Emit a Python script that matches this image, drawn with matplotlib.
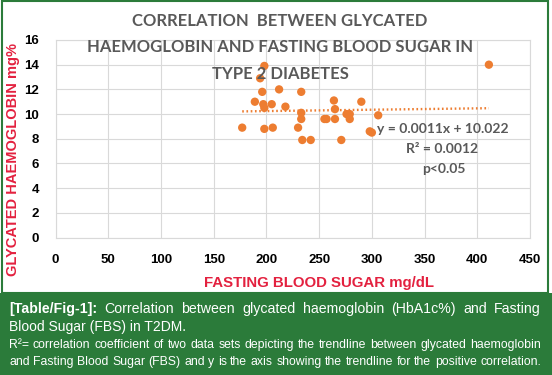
import matplotlib
matplotlib.use("Agg")
import matplotlib.pyplot as plt
from matplotlib.patches import Rectangle
import numpy as np

# ---- data ----
fbs = [177, 198, 194, 196, 212, 233, 189, 197, 198, 205, 218, 233, 233, 198, 206, 230,
       234, 242, 255, 257, 265, 264, 265, 276, 279, 279, 271, 290, 306, 298, 300, 411]
hba1c = [8.9, 13.9, 12.9, 11.8, 12.0, 11.8, 11.0, 10.8, 10.5, 10.8, 10.6, 10.1, 9.6, 8.8, 8.9, 8.9,
         7.9, 7.9, 9.6, 9.6, 9.6, 11.1, 10.4, 10.0, 10.0, 9.6, 7.9, 11.0, 9.9, 8.6, 8.5, 14.0]
slope = 0.0011
intercept = 10.022
x_ticks = [0, 50, 100, 150, 200, 250, 300, 350, 400, 450]
y_ticks = [0, 2, 4, 6, 8, 10, 12, 14, 16]

title_lines = ["CORRELATION  BETWEEN GLYCATED",
               "HAEMOGLOBIN AND FASTING BLOOD SUGAR IN",
               "TYPE 2 DIABETES"]
eq_lines = ["y = 0.0011x + 10.022", "R² = 0.0012", "p<0.05"]
x_label = "FASTING BLOOD SUGAR mg/dL"
y_label = "GLYCATED HAEMOGLOBIN mg%"
cap_bold = "[Table/Fig-1]:"
cap_l1 = "Correlation between glycated haemoglobin (HbA1c%) and Fasting"
cap_l2 = "Blood Sugar (FBS) in T2DM."
cap_l3 = "R²= correlation coefficient of two data sets depicting the trendline between glycated haemoglobin"
cap_l4 = "and Fasting Blood Sugar (FBS) and y is the axis showing the trendline for the positive correlation."

W, H = 552, 375
fig = plt.figure(figsize=(W / 100, H / 100), dpi=100)
renderer = fig.canvas.get_renderer()

ORANGE = "#ED7D31"
GREEN = "#2B7B3A"
RED = "#E3213F"
GRAY = "#595959"
GRID = "#D9D9D9"

def fx(px):
    return px / W

def fy(py):
    return 1 - py / H

# green caption box
fig.patches.append(Rectangle((0, 0), 1, fy(293), transform=fig.transFigure,
                             facecolor=GREEN, edgecolor="none", zorder=0))
# green frame around chart area
fig.patches.append(Rectangle((fx(1.5), fy(293)), fx(548) - fx(1.5), fy(1) - fy(293),
                             transform=fig.transFigure, facecolor="none",
                             edgecolor=GREEN, lw=1.5, zorder=0))

left, right, top, bottom = 55.6, 530, 40, 237.5
ax = fig.add_axes([fx(left), fy(bottom), fx(right) - fx(left), fy(top) - fy(bottom)])
ax.set_xlim(0, 450)
ax.set_ylim(0, 16)
ax.set_xticks(x_ticks)
ax.set_yticks(y_ticks)
ax.grid(True, color=GRID, lw=0.8)
ax.set_axisbelow(True)
for s in ax.spines.values():
    s.set_color(GRID)
    s.set_linewidth(0.8)
ax.tick_params(length=0, pad=12, labelsize=9.5, labelcolor="black")
for lab in ax.get_xticklabels() + ax.get_yticklabels():
    lab.set_family(["Liberation Sans", "DejaVu Sans"])
    lab.set_fontweight("bold")

ax.scatter(fbs, hba1c, s=36, color=ORANGE, edgecolors="none", zorder=3)
xt = np.array([min(fbs), max(fbs)])
ax.plot(xt, slope * xt + intercept, color=ORANGE, lw=1.7, linestyle=(0, (0.7, 1.1)), zorder=2)

# title
tfont = ["Lato", "DejaVu Sans"]
for line, yy in zip(title_lines, [21, 47.5, 74]):
    fig.text(fx(280), fy(yy), line, ha="center", va="center", color=GRAY,
             fontsize=12, fontweight="bold", family=tfont, zorder=5)

# equation annotation
for line, xx, yy in zip(eq_lines, [442.5, 442, 444], [129, 149, 169]):
    fig.text(fx(xx), fy(yy), line, ha="center", va="center", color=GRAY,
             fontsize=10, fontweight="bold", family=tfont, zorder=5)

# axis labels
lfont = ["Liberation Sans", "DejaVu Sans"]
fig.text(fx(319), fy(283), x_label, ha="center", va="center", color=RED,
         fontsize=10.8, fontweight="bold", family=lfont)
fig.text(fx(13), fy(160), y_label, ha="center", va="center", color=RED,
         fontsize=10.5, fontweight="bold", family=lfont, rotation=90)


def justify(words, x0, x1, py, size, weights=None):
    """Place words so that the line fills x0..x1 pixels (justified)."""
    if weights is None:
        weights = ["normal"] * len(words)
    texts = []
    widths = []
    for w, wt in zip(words, weights):
        t = fig.text(0, fy(py), w, ha="left", va="center", color="white",
                     fontsize=size, fontweight=wt, family=lfont)
        widths.append(t.get_window_extent(renderer=renderer).width)
        texts.append(t)
    gap = (x1 - x0 - sum(widths)) / (len(words) - 1)
    x = x0
    for t, wd in zip(texts, widths):
        t.set_x(fx(x))
        x += wd + gap


# caption
w1 = [cap_bold] + cap_l1.split(" ")
justify(w1, 9, 541, 309, 10.2, ["bold"] + ["normal"] * (len(w1) - 1))
fig.text(fx(9), fy(327), cap_l2, ha="left", va="center", color="white",
         fontsize=10.0, family=lfont)
justify(cap_l3.split(" "), 9, 541, 345, 8.85)
justify(cap_l4.split(" "), 9, 541, 362, 8.85)

fig.savefig("out.png", dpi=100)
